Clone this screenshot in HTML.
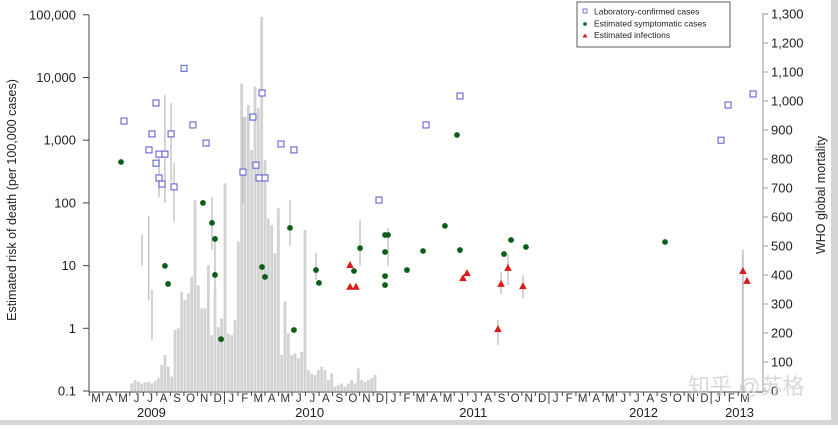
<!DOCTYPE html>
<html><head><meta charset="utf-8">
<style>
html,body{margin:0;padding:0;background:#fff;}
body{width:838px;height:425px;overflow:hidden;position:relative;font-family:"Liberation Sans","Noto Sans CJK SC",sans-serif;}
svg text{font-family:"Liberation Sans","Noto Sans CJK SC",sans-serif;}
</style></head>
<body>
<svg id="chart" width="838" height="425" viewBox="0 0 838 425" xmlns="http://www.w3.org/2000/svg">
<rect x="0" y="0" width="838" height="425" fill="#fff"/>
<rect x="0" y="420" width="838" height="5" fill="#d6d6d6"/>
<rect x="831" y="0" width="7" height="425" fill="#d6d6d6"/>
<g id="bars"></g>
<g id="errs"></g>
<g id="axes"></g>
<g id="pts"></g>
<text transform="translate(16,200) rotate(-90)" text-anchor="middle" font-size="12.5" fill="#222">Estimated risk of death (per 100,000 cases)</text>
<text transform="translate(825,195) rotate(-90)" text-anchor="middle" font-size="12.5" fill="#222">WHO global mortality</text>
<g>
<rect x="577" y="2" width="153" height="45" fill="#fff" stroke="#333" stroke-width="0.8"/>
<g><rect x="583" y="9" width="4" height="4" fill="none" stroke="#5555cc" stroke-width="0.8"/><text x="594" y="14.5" font-size="8.5" fill="#222">Laboratory-confirmed cases</text></g>
<g><circle cx="585" cy="24" r="1.8" fill="#0d5e1a"/><text x="594" y="26.5" font-size="8.5" fill="#222">Estimated symptomatic cases</text></g>
<g><polygon points="585,33.5 582.5,37.5 587.5,37.5" fill="#d91c1c"/><text x="594" y="38" font-size="8.5" fill="#222">Estimated infections</text></g>
</g>
<text x="688" y="394" font-size="22" fill="#cfcfcf" opacity="0.8">知乎 @苏格</text>
</svg>
<script>
// data
const barStartMonth = 2.64;
const barStepMonths = 0.2465;
const barValues = [26,38,32,26,29,32,26,35,44,90,124,84,50,210,216,342,313,337,394,658,365,285,285,434,193,350,220,250,716,199,193,245,515,1060,946,986,831,1050,975,1290,797,595,572,475,630,124,308,199,124,130,113,135,555,72,61,55,72,84,72,38,61,15,20,26,15,26,38,26,78,38,32,38,44,55];
const extraBarMonths = [47.85];
const extraBarValues = [470];

const labMonths = [2.07,4.44,6.51,7.17,4.14,5.55,8.14,3.92,4.66,5.10,4.44,4.66,4.88,5.77,11.61,12.28,11.83,10.87,12.06,12.50,13.68,14.64,20.93,24.41,26.92,46.23,46.75,48.6];
const labValues = [2020,3920,14000,1750,1260,1260,900,700,600,600,430,250,200,180,2340,5660,400,310,250,250,870,700,111,1750,5070,1000,3640,5460];

const symMonths = [1.85,5.10,5.33,7.91,8.58,8.80,8.80,9.25,12.28,12.50,14.35,14.64,16.27,16.49,19.08,19.53,21.38,21.60,21.38,21.38,21.38,23.0,24.19,25.81,26.70,26.92,30.18,30.70,31.80,42.09];
const symValues = [449,9.9,5.1,100,48,26.6,7.1,0.67,9.5,6.6,40,0.94,8.5,5.3,8.2,19,30.8,30.8,16.5,6.8,4.9,8.5,17.1,43,1210,17.7,15.3,25.6,19.8,23.8];

const infMonths = [18.79,18.79,19.23,27.14,27.44,29.73,29.96,30.47,31.58,47.85,48.15];
const infValues = [10.2,4.6,4.6,6.3,7.6,0.97,5.1,9.2,4.7,8.2,5.7];

const errMonths = [5.10,5.55,5.77,4.66,3.9,3.4,4.14,8.58,8.80,14.35,16.27,19.53,21.60,10.87,29.73,30.47,31.58,47.85,29.96];
const errLow = [100,215,50,124,2.8,10,0.65,18,4,21,5.9,10,10,100,0.54,4.9,3,0.1,3.5];
const errHigh = [5250,3900,430,520,62,31,4.1,124,26,111,16,53,40,2340,1.35,15,7,18,8];

const leftTicks = [100000,10000,1000,100,10,1,0.1];
const leftTickLabels = ["100,000","10,000","1,000","100","10","1","0.1"];
const rightTicks = [0,100,200,300,400,500,600,700,800,900,1000,1100,1200,1300];
const rightTickLabels = ["0","100","200","300","400","500","600","700","800","900","1,000","1,100","1,200","1,300"];
const monthLabels = ["M","A","M","J","J","A","S","O","N","D","J","F","M","A","M","J","J","A","S","O","N","D","J","F","M","A","M","J","J","A","S","O","N","D","J","F","M","A","M","J","J","A","S","O","N","D","J","F","M"];
const yearLabels = ["2009","2010","2011","2012","2013"];
const yearCenters = [4.1,15.8,27.9,40.5,47.6];

// scales
const X0 = 96, DX = 13.52;
function xs(m){ return X0 + m*DX; }
function yl(v){ return 391 - (Math.log10(v)+1)*62.7; }
function yr(v){ return 391 - v*0.29; }
const NS = "http://www.w3.org/2000/svg";
function mk(tag, attrs, parent){ const e=document.createElementNS(NS,tag); for(const k in attrs) e.setAttribute(k,attrs[k]); parent.appendChild(e); return e; }

const gb = document.getElementById('bars');
barValues.forEach((v,i)=>{
  const x = xs(barStartMonth + i*barStepMonths);
  const r = mk('rect',{x:x-1.4,y:yr(v),width:2.8,height:391-yr(v),fill:'#d2d2d2'},gb);
  
  
});
extraBarValues.forEach((v,i)=>{
  const x = xs(extraBarMonths[i]);
  const r = mk('rect',{x:x-1.2,y:yr(v),width:2,height:391-yr(v),fill:'#cfcfcf'},gb);
  
  
});

const ge = document.getElementById('errs');
errMonths.forEach((m,i)=>{
  const l = mk('line',{x1:xs(m),x2:xs(m),y1:yl(errLow[i]),y2:yl(errHigh[i]),stroke:'#bdbdbd','stroke-width':1.3},ge);
  
  
});

const ga = document.getElementById('axes');
mk('line',{x1:89,x2:89,y1:15,y2:392,stroke:'#444','stroke-width':1},ga);
mk('line',{x1:763,x2:763,y1:13,y2:392,stroke:'#999','stroke-width':1},ga);
mk('line',{x1:89,x2:763,y1:392,y2:392,stroke:'#444','stroke-width':1},ga);
leftTicks.forEach((v,i)=>{
  const y = yl(v);
  mk('line',{x1:83,x2:89,y1:y,y2:y,stroke:'#444'},ga);
  const t = mk('text',{x:76,y:y+4.5,'text-anchor':'end','font-size':13,fill:'#222'},ga);
  t.textContent = leftTickLabels[i];
  
  
});
rightTicks.forEach((v,i)=>{
  const y = yr(v);
  mk('line',{x1:763,x2:768,y1:y,y2:y,stroke:'#999'},ga);
  const t = mk('text',{x:771,y:y+4.5,'font-size':13,fill:'#222'},ga);
  t.textContent = rightTickLabels[i];
  
  
});
monthLabels.forEach((s,i)=>{
  const x = xs(i);
  const t = mk('text',{x:x,y:402,'text-anchor':'middle','font-size':11.5,fill:'#333'},ga);
  t.textContent = s;
  
  
  const bx = x - DX/2;
  const isYear = s==='J' && (i===10||i===22||i===34||i===46);
  mk('line',{x1:bx,x2:bx,y1:392,y2:isYear?404:396,stroke:'#444','stroke-width':1},ga);
});
yearLabels.forEach((s,i)=>{
  const t = mk('text',{x:xs(yearCenters[i]),y:417,'text-anchor':'middle','font-size':13,fill:'#222'},ga);
  t.textContent = s;
  
  
});

const gp = document.getElementById('pts');
labMonths.forEach((m,i)=>{
  const r = mk('rect',{x:xs(m)-3,y:yl(labValues[i])-3,width:6,height:6,fill:'#fff',stroke:'#5555cc','stroke-width':1},gp);
  
  
});
symMonths.forEach((m,i)=>{
  const c = mk('circle',{cx:xs(m),cy:yl(symValues[i]),r:2.9,fill:'#0d5e1a'},gp);
  
  
});
infMonths.forEach((m,i)=>{
  const x = xs(m), y = yl(infValues[i]);
  const p = mk('polygon',{points:`${x},${y-4} ${x-3.8},${y+3} ${x+3.8},${y+3}`,fill:'#d91c1c'},gp);
  
  
});
</script>
</body></html>
